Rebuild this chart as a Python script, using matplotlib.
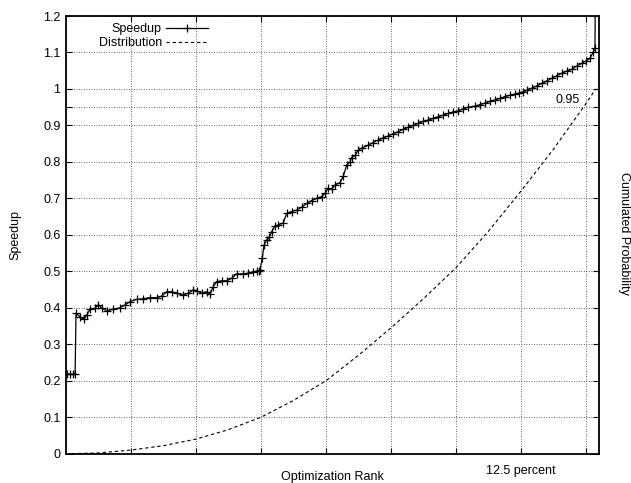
import matplotlib.pyplot as plt

plt.rcParams['font.family'] = ['Liberation Sans', 'DejaVu Sans']

# Speedup curve (rank on x axis, one grid cell = one unit)
rank = [0.015, 0.06, 0.11, 0.14, 0.154, 0.215, 0.277, 0.318, 0.369, 0.446,
        0.497, 0.549, 0.626, 0.728, 0.831, 0.908, 0.985, 1.088, 1.189, 1.292,
        1.395, 1.472, 1.549, 1.626, 1.703, 1.805, 1.882, 1.958, 2.011, 2.088,
        2.165, 2.215, 2.266, 2.318, 2.395, 2.472, 2.549, 2.626, 2.728, 2.805,
        2.882, 2.934, 2.974, 2.985, 3.02, 3.046, 3.088, 3.128, 3.165, 3.215,
        3.266, 3.343, 3.395, 3.472, 3.549, 3.626, 3.703, 3.78, 3.857, 3.934,
        3.985, 4.035, 4.088, 4.138, 4.215, 4.266, 4.318, 4.369, 4.395, 4.446,
        4.497, 4.554, 4.651, 4.723, 4.805, 4.877, 4.958, 5.031, 5.112, 5.185,
        5.266, 5.338, 5.42, 5.492, 5.574, 5.646, 5.728, 5.8, 5.882, 5.954,
        6.035, 6.108, 6.189, 6.292, 6.369, 6.446, 6.523, 6.6, 6.677, 6.754,
        6.831, 6.908, 6.969, 7.035, 7.092, 7.165, 7.242, 7.318, 7.395, 7.472,
        7.549, 7.626, 7.703, 7.78, 7.857, 7.934, 8.0, 8.062, 8.112, 8.138,
        8.146]
speedup = [0.218, 0.218, 0.218, 0.218, 0.385, 0.376, 0.368, 0.38, 0.396, 0.399,
           0.408, 0.399, 0.392, 0.396, 0.40, 0.408, 0.417, 0.423, 0.425, 0.428,
           0.428, 0.432, 0.444, 0.444, 0.44, 0.435, 0.44, 0.449, 0.447, 0.44,
           0.444, 0.438, 0.458, 0.472, 0.474, 0.474, 0.481, 0.493, 0.493, 0.495,
           0.499, 0.50, 0.502, 0.505, 0.536, 0.572, 0.586, 0.593, 0.609, 0.624,
           0.627, 0.633, 0.659, 0.664, 0.668, 0.676, 0.686, 0.694, 0.700, 0.705,
           0.714, 0.728, 0.725, 0.737, 0.743, 0.761, 0.791, 0.80, 0.812, 0.818,
           0.833, 0.838, 0.846, 0.853, 0.86, 0.866, 0.871, 0.877, 0.883, 0.889,
           0.895, 0.90, 0.906, 0.911, 0.915, 0.919, 0.924, 0.928, 0.933, 0.937,
           0.94, 0.945, 0.95, 0.953, 0.957, 0.961, 0.966, 0.97, 0.974, 0.979,
           0.983, 0.986, 0.989, 0.992, 0.997, 1.002, 1.008, 1.015, 1.022, 1.029,
           1.036, 1.043, 1.049, 1.054, 1.063, 1.07, 1.077, 1.084, 1.102, 1.111,
           1.35]

# Cumulated probability (dashed)
dist_x = [0, 0.5, 1, 1.5, 2, 2.5, 3, 3.5, 4, 4.5, 5, 5.5, 6, 6.5, 7, 7.5,
          8, 8.15]
dist_y = [0, 0.002, 0.01, 0.022, 0.04, 0.066, 0.10, 0.146, 0.20, 0.27, 0.345,
          0.425, 0.51, 0.61, 0.72, 0.835, 0.96, 1.0]

yticks = [0, 0.1, 0.2, 0.3, 0.4, 0.5, 0.6, 0.7, 0.8, 0.9, 1, 1.1, 1.2]
ytick_labels = ['0', '0.1', '0.2', '0.3', '0.4', '0.5', '0.6', '0.7', '0.8',
                '0.9', '1', '1.1', '1.2']
xticks = [1, 2, 3, 4, 5, 6, 7, 8]
xtick_labels = ['', '', '', '', '', '', '12.5 percent', '']

fs = 9

fig = plt.figure(figsize=(6.31, 4.83), dpi=100)
ax = fig.add_axes([66 / 631, 1 - 453.7 / 483, 533 / 631, 437.7 / 483])

ax.plot(rank, speedup, 'k-', marker='+', markersize=5.5, markeredgewidth=0.9,
        linewidth=0.9, label='Speedup')
ax.plot(dist_x, dist_y, 'k--', dashes=(3, 2.5), linewidth=0.8,
        label='Distribution')

ax.set_xlim(0, 8.2)
ax.set_ylim(0, 1.2)
ax.set_xticks(xticks)
ax.set_xticklabels(xtick_labels)
ax.set_yticks(yticks + [0.95])
ax.set_yticklabels(ytick_labels + [''])
ax.tick_params(direction='in', length=4, width=0.8, top=True, right=True,
               labelsize=fs, pad=4)
ax.tick_params(axis='x', pad=8)
ax.grid(True, color='#333333', linestyle=(0, (1, 2)), linewidth=0.6)
for s in ax.spines.values():
    s.set_linewidth(1.3)

ax.text(7.9, 0.97, '0.95', ha='right', va='center', fontsize=fs)

fig.text(15 / 631, 1 - 235 / 483, 'Speedup', rotation=90, ha='center',
         va='center', fontsize=fs)
fig.text(624 / 631, 1 - 233 / 483, 'Cumulated Probability', rotation=270,
         ha='center', va='center', fontsize=fs)
fig.text(332 / 631, 1 - 477 / 483, 'Optimization Rank', ha='center',
         va='center', fontsize=fs)

ax.legend(loc='upper right', bbox_to_anchor=(208 / 631, 1 - 23 / 483),
          bbox_transform=fig.transFigure, frameon=False, markerfirst=False,
          fontsize=fs, handlelength=3.4, handletextpad=0.3, labelspacing=0.15,
          borderpad=0, borderaxespad=0)

fig.savefig('out.png', dpi=100)
